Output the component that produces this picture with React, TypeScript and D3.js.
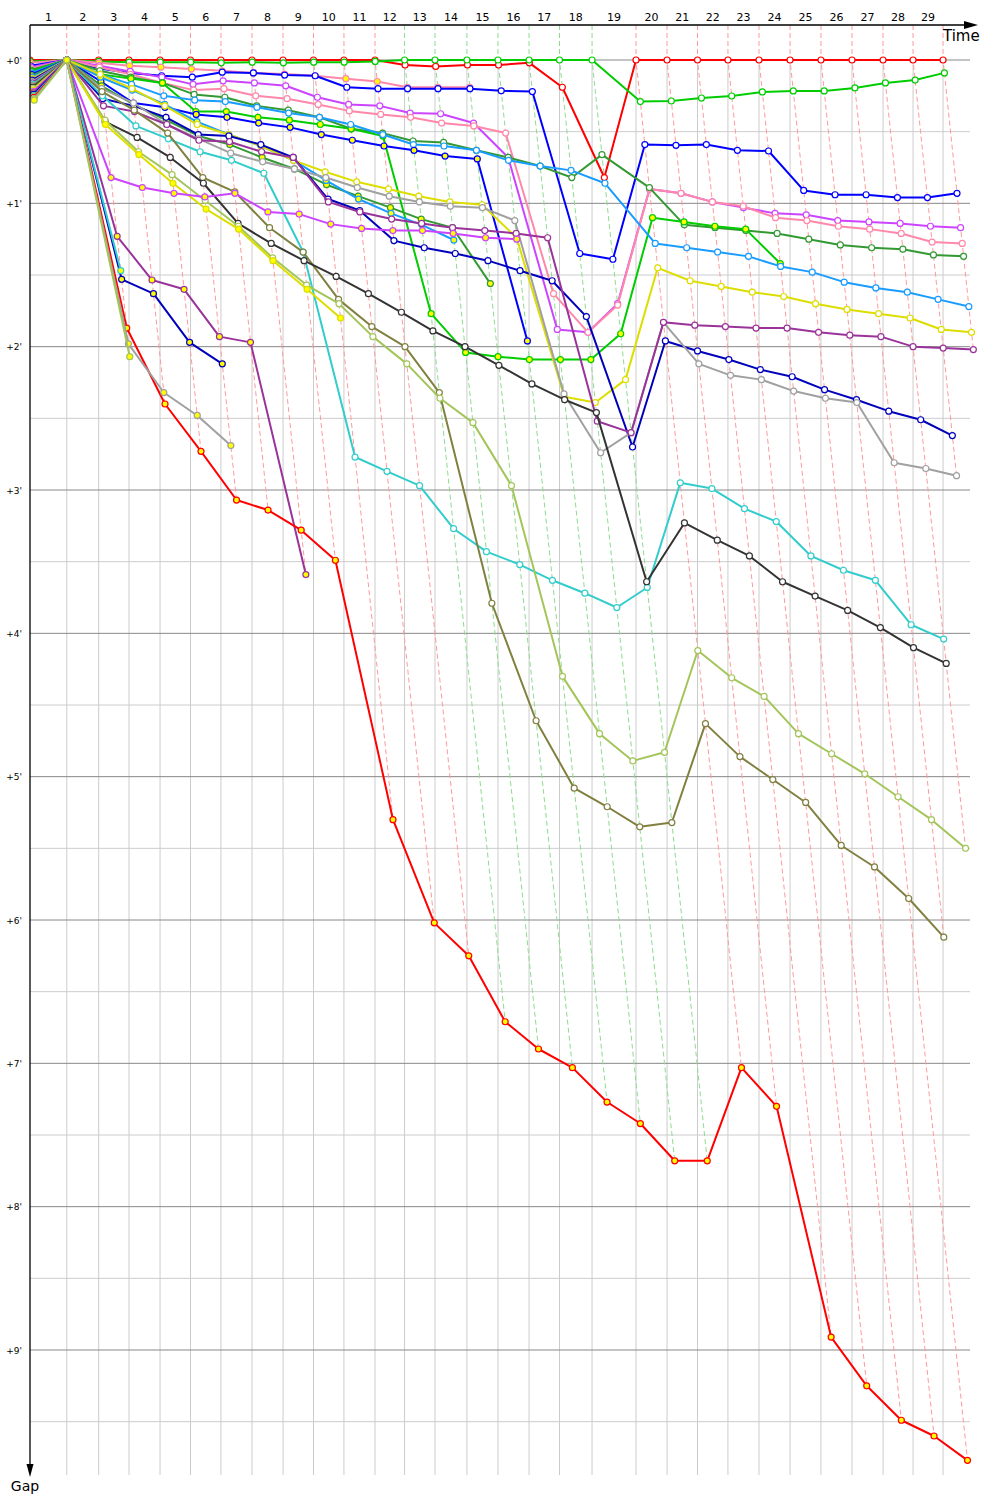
import { line as d3Line, max, scaleLinear } from 'd3'

const WIDTH = 1000
const HEIGHT = 1500

// leader's elapsed race time (minutes) at the end of laps 1..29
const leaderLapEnd = [
  2.45, 4.58, 6.6, 8.67, 10.7, 12.73, 14.8, 16.87, 18.9, 20.93, 23.0, 24.97, 27.0, 29.13, 31.2,
  33.27, 35.3, 37.47, 40.4, 42.47, 44.5, 46.53, 48.6, 50.67, 52.73, 54.8, 56.87, 58.87, 60.87,
]
const lapLabels = ['1', '2', '3', '4', '5', '6', '7', '8', '9', '10', '11', '12', '13', '14', '15', '16', '17', '18', '19', '20', '21', '22', '23', '24', '25', '26', '27', '28', '29']
const gapTicks = [0, 1, 2, 3, 4, 5, 6, 7, 8, 9]
const gapMinorTicks = [0.5, 1.5, 2.5, 3.5, 4.5, 5.5, 6.5, 7.5, 8.5, 9.5]

// gap to the leader in minutes, index 0 = start, index k = end of lap k
const gapsRedLeader = [0, 0, 0, 0, 0, 0, 0, 0, 0, 0, 0, 0, 0.035, 0.045, 0.035, 0.035, 0.02, 0.19, 0.82, 0, 0, 0, 0, 0, 0, 0, 0, 0, 0, 0]
const gapsGreenLeader = [0.01, 0, 0.01, 0.015, 0.015, 0.015, 0.02, 0.015, 0.02, 0.015, 0.015, 0.01, 0, 0, 0, 0, 0, 0, 0, 0.29, 0.286, 0.265, 0.251, 0.223, 0.216, 0.216, 0.195, 0.16, 0.14, 0.09]
const gapsPinkY = [0.02, 0, 0.02, 0.04, 0.05, 0.063, 0.075, 0.09, 0.098, 0.11, 0.13, 0.15, 0.19, 0.19, 0.19]
const gapsBlue = [0.04, 0, 0.06, 0.09, 0.11, 0.12, 0.085, 0.09, 0.105, 0.11, 0.19, 0.2, 0.2, 0.2, 0.2, 0.215, 0.22, 1.35, 1.39, 0.59, 0.595, 0.59, 0.63, 0.635, 0.91, 0.94, 0.94, 0.96, 0.96, 0.93]
const gapsViolet = [0.05, 0, 0.04, 0.08, 0.12, 0.17, 0.145, 0.16, 0.18, 0.26, 0.31, 0.32, 0.37, 0.375, 0.44, 0.68, 1.88, 1.9, 1.7, 0.9, 0.93, 0.99, 1.03, 1.07, 1.08, 1.12, 1.13, 1.14, 1.16, 1.17]
const gapsPink = [0.06, 0, 0.05, 0.1, 0.16, 0.21, 0.2, 0.25, 0.27, 0.31, 0.355, 0.38, 0.4, 0.44, 0.46, 0.51, 1.63, 1.9, 1.71, 0.9, 0.93, 0.99, 1.02, 1.1, 1.12, 1.16, 1.18, 1.21, 1.27, 1.28]
const gapsDarkGreen = [0.07, 0, 0.075, 0.12, 0.16, 0.24, 0.26, 0.32, 0.35, 0.4, 0.48, 0.51, 0.565, 0.575, 0.63, 0.68, 0.74, 0.82, 0.66, 0.89, 1.15, 1.17, 1.19, 1.21, 1.25, 1.29, 1.31, 1.32, 1.36, 1.37]
const gapsGreenY = [0.08, 0, 0.1, 0.13, 0.16, 0.36, 0.36, 0.4, 0.42, 0.45, 0.48, 0.53, 1.77, 2.04, 2.07, 2.09, 2.09, 2.09, 1.91, 1.1, 1.13, 1.16, 1.18, 1.42]
const gapsSky = [0.09, 0, 0.1, 0.17, 0.25, 0.28, 0.29, 0.33, 0.37, 0.4, 0.45, 0.52, 0.59, 0.6, 0.63, 0.7, 0.74, 0.77, 0.86, 1.28, 1.31, 1.34, 1.37, 1.44, 1.48, 1.55, 1.59, 1.62, 1.67, 1.72]
const gapsBlueY = [0.1, 0, 0.15, 0.3, 0.33, 0.38, 0.4, 0.44, 0.47, 0.52, 0.56, 0.6, 0.63, 0.67, 0.69, 1.96]
const gapsDarkGreenY = [0.11, 0, 0.18, 0.31, 0.42, 0.53, 0.59, 0.68, 0.76, 0.87, 0.95, 1.03, 1.11, 1.17, 1.56]
const gapsSkyY = [0.12, 0, 0.12, 0.21, 0.31, 0.43, 0.52, 0.6, 0.7, 0.84, 0.97, 1.07, 1.15, 1.256]
const gapsYellow = [0.13, 0, 0.1, 0.2, 0.32, 0.45, 0.52, 0.6, 0.7, 0.78, 0.85, 0.9, 0.95, 0.99, 1.01, 1.24, 2.35, 2.39, 2.23, 1.45, 1.54, 1.58, 1.62, 1.65, 1.7, 1.74, 1.77, 1.8, 1.88, 1.9]
const gapsNavy = [0.14, 0, 0.27, 0.32, 0.4, 0.52, 0.53, 0.59, 0.68, 0.97, 1.05, 1.26, 1.31, 1.35, 1.4, 1.47, 1.54, 1.79, 2.7, 1.96, 2.03, 2.09, 2.16, 2.21, 2.3, 2.37, 2.45, 2.51, 2.62]
const gapsGray = [0.15, 0, 0.2, 0.3, 0.45, 0.55, 0.65, 0.71, 0.76, 0.82, 0.89, 0.95, 0.99, 1.02, 1.03, 1.12, 2.33, 2.74, 2.6, 1.83, 2.12, 2.2, 2.23, 2.31, 2.36, 2.39, 2.81, 2.85, 2.9]
const gapsPurple = [0.16, 0, 0.32, 0.36, 0.45, 0.56, 0.57, 0.64, 0.68, 0.99, 1.06, 1.11, 1.14, 1.17, 1.19, 1.21, 1.24, 2.52, 2.6, 1.83, 1.85, 1.86, 1.87, 1.87, 1.9, 1.92, 1.93, 2.0, 2.01, 2.02]
const gapsCyan = [0.17, 0, 0.25, 0.46, 0.55, 0.64, 0.7, 0.79, 1.34, 2.77, 2.87, 2.97, 3.27, 3.43, 3.52, 3.63, 3.72, 3.82, 3.68, 2.95, 2.99, 3.13, 3.22, 3.46, 3.56, 3.63, 3.94, 4.04]
const gapsOlive = [0.18, 0, 0.22, 0.35, 0.51, 0.82, 0.92, 1.17, 1.34, 1.67, 1.86, 2.0, 2.32, 3.79, 4.61, 5.08, 5.21, 5.35, 5.32, 4.63, 4.86, 5.02, 5.18, 5.48, 5.63, 5.85, 6.12]
const gapsBlack = [0.19, 0, 0.43, 0.54, 0.68, 0.86, 1.14, 1.28, 1.4, 1.51, 1.63, 1.76, 1.89, 2.0, 2.13, 2.26, 2.37, 2.46, 3.64, 3.23, 3.35, 3.46, 3.64, 3.74, 3.84, 3.96, 4.1, 4.21]
const gapsLime = [0.2, 0, 0.42, 0.64, 0.8, 0.98, 1.16, 1.38, 1.57, 1.7, 1.93, 2.12, 2.36, 2.53, 2.97, 4.3, 4.7, 4.89, 4.83, 4.12, 4.31, 4.44, 4.7, 4.84, 4.98, 5.14, 5.3, 5.5]
const gapsYellowY = [0.21, 0, 0.45, 0.66, 0.86, 1.04, 1.18, 1.4, 1.6, 1.8]
const gapsVioletY = [0.22, 0, 0.82, 0.89, 0.93, 0.955, 0.93, 1.06, 1.075, 1.145, 1.175, 1.19, 1.19, 1.21, 1.24, 1.25]
const gapsPurpleY = [0.23, 0, 1.23, 1.535, 1.6, 1.93, 1.97, 3.59]
const gapsNavyY = [0.24, 0, 1.53, 1.63, 1.97, 2.12]
const gapsCyanY = [0.25, 0, 1.47]
const gapsRedY = [0.26, 0, 1.87, 2.4, 2.73, 3.07, 3.14, 3.28, 3.49, 5.3, 6.02, 6.25, 6.71, 6.9, 7.03, 7.27, 7.42, 7.68, 7.68, 7.03, 7.3, 8.91, 9.25, 9.49, 9.6, 9.77]
const gapsGrayY = [0.27, 0, 1.98, 2.32, 2.48, 2.69]
const gapsLimeY = [0.28, 0, 2.07]

const WHITE = '#ffffff'
const YELLOW = '#ffff00'

const series = [
  { key: 'red-leader', color: '#ff0000', fill: WHITE, lapLine: '#ff9a9a', gaps: gapsRedLeader },
  { key: 'green-leader', color: '#00cc00', fill: WHITE, lapLine: '#8fdc8f', gaps: gapsGreenLeader },
  { key: 'pink-y', color: '#ff88aa', fill: YELLOW, lapLine: '', gaps: gapsPinkY },
  { key: 'blue', color: '#0000ff', fill: WHITE, lapLine: '', gaps: gapsBlue },
  { key: 'violet', color: '#cc44ff', fill: WHITE, lapLine: '', gaps: gapsViolet },
  { key: 'pink', color: '#ff88aa', fill: WHITE, lapLine: '', gaps: gapsPink },
  { key: 'dark-green', color: '#339933', fill: WHITE, lapLine: '', gaps: gapsDarkGreen },
  { key: 'green-y', color: '#00cc00', fill: YELLOW, lapLine: '', gaps: gapsGreenY },
  { key: 'sky', color: '#1a9cff', fill: WHITE, lapLine: '', gaps: gapsSky },
  { key: 'blue-y', color: '#0000ff', fill: YELLOW, lapLine: '', gaps: gapsBlueY },
  { key: 'dark-green-y', color: '#339933', fill: YELLOW, lapLine: '', gaps: gapsDarkGreenY },
  { key: 'sky-y', color: '#1a9cff', fill: YELLOW, lapLine: '', gaps: gapsSkyY },
  { key: 'yellow', color: '#dddd00', fill: WHITE, lapLine: '', gaps: gapsYellow },
  { key: 'navy', color: '#0000bb', fill: WHITE, lapLine: '', gaps: gapsNavy },
  { key: 'gray', color: '#a0a0a0', fill: WHITE, lapLine: '', gaps: gapsGray },
  { key: 'purple', color: '#993399', fill: WHITE, lapLine: '', gaps: gapsPurple },
  { key: 'cyan', color: '#33cccc', fill: WHITE, lapLine: '', gaps: gapsCyan },
  { key: 'olive', color: '#808040', fill: WHITE, lapLine: '', gaps: gapsOlive },
  { key: 'black', color: '#333333', fill: WHITE, lapLine: '', gaps: gapsBlack },
  { key: 'lime', color: '#a3c55a', fill: WHITE, lapLine: '', gaps: gapsLime },
  { key: 'yellow-y', color: '#dddd00', fill: YELLOW, lapLine: '', gaps: gapsYellowY },
  { key: 'violet-y', color: '#cc44ff', fill: YELLOW, lapLine: '', gaps: gapsVioletY },
  { key: 'purple-y', color: '#993399', fill: YELLOW, lapLine: '', gaps: gapsPurpleY },
  { key: 'navy-y', color: '#0000bb', fill: YELLOW, lapLine: '', gaps: gapsNavyY },
  { key: 'cyan-y', color: '#33cccc', fill: YELLOW, lapLine: '', gaps: gapsCyanY },
  { key: 'red-y', color: '#ff0000', fill: YELLOW, lapLine: '', gaps: gapsRedY },
  { key: 'gray-y', color: '#a0a0a0', fill: YELLOW, lapLine: '', gaps: gapsGrayY },
  { key: 'lime-y', color: '#a3c55a', fill: YELLOW, lapLine: '', gaps: gapsLimeY },
]

const AXIS_TOP = 25
const AXIS_LEFT = 30
const GRID_RIGHT = 970
const GRID_BOTTOM = 1475
const FONT = '"DejaVu Sans", Verdana, sans-serif'

const x = scaleLinear().domain([0, 60]).range([AXIS_LEFT, AXIS_LEFT + 900])
const y = scaleLinear().domain([0, 9]).range([60, 1350])

const lapStart = (lap: number) => (lap === 0 ? 0 : leaderLapEnd[lap - 1])

export default function App() {
  const line = d3Line<[number, number]>()
    .x((d) => d[0])
    .y((d) => d[1])

  // one dashed lap line per lap: from the leader at gap 0 down to the slowest car of that lap
  const lapLines = leaderLapEnd.map((t, i) => {
    const lap = i + 1
    const entries = series.filter((s) => s.gaps.length > lap)
    const worst = max(entries, (s) => s.gaps[lap]) ?? 0
    let leader = entries[0]
    for (const s of entries) if (s.gaps[lap] < leader.gaps[lap]) leader = s
    const color = leader.key === 'green-leader' ? '#8fdc8f' : '#ff9a9a'
    const pts: [number, number][] = [
      [x(t), AXIS_TOP],
      [x(t), y(0)],
      [x(t + worst), y(worst)],
    ]
    return { lap, color, d: line(pts) ?? '' }
  })

  return (
    <svg
      width={WIDTH}
      height={HEIGHT}
      viewBox={`0 0 ${WIDTH} ${HEIGHT}`}
      style={{ position: 'absolute', left: 0, top: 0, background: '#fff' }}
    >
      <defs>
        <clipPath id="plot">
          <rect x={AXIS_LEFT + 0.5} y={AXIS_TOP} width={WIDTH - AXIS_LEFT} height={HEIGHT - AXIS_TOP} />
        </clipPath>
      </defs>

      {gapMinorTicks.map((g) => (
        <line key={`m${g}`} x1={AXIS_LEFT} x2={GRID_RIGHT} y1={y(g)} y2={y(g)} stroke="#cccccc" />
      ))}
      {leaderLapEnd.map((t, i) => (
        <line key={`v${i}`} x1={x(t)} x2={x(t)} y1={y(0)} y2={GRID_BOTTOM} stroke="#cccccc" />
      ))}
      {gapTicks.map((g) => (
        <line key={`M${g}`} x1={AXIS_LEFT} x2={GRID_RIGHT} y1={y(g)} y2={y(g)} stroke="#888888" />
      ))}

      {lapLines.map((l) => (
        <path key={`lap${l.lap}`} d={l.d} fill="none" stroke={l.color} strokeWidth={1} strokeDasharray="5,3" />
      ))}

      <g clipPath="url(#plot)">
        {series.map((s) => {
          const pts: [number, number][] = s.gaps.map((g, lap) => [x(lapStart(lap) + g), y(g)])
          return (
            <g key={s.key}>
              <path d={line(pts) ?? undefined} fill="none" stroke={s.color} strokeWidth={2} strokeLinejoin="round" />
              {pts.map((p, i) => (
                <circle key={i} cx={p[0]} cy={p[1]} r={3} fill={s.fill} stroke={s.color} strokeWidth={1.2} />
              ))}
            </g>
          )
        })}
      </g>

      {/* axes */}
      <line x1={AXIS_LEFT} x2={966} y1={AXIS_TOP} y2={AXIS_TOP} stroke="#000" strokeWidth={1.3} />
      <path d={`M964,${AXIS_TOP - 4} L978,${AXIS_TOP} L964,${AXIS_TOP + 4} Z`} fill="#000" />
      <line x1={AXIS_LEFT} x2={AXIS_LEFT} y1={AXIS_TOP} y2={1466} stroke="#000" strokeWidth={1.3} />
      <path d={`M${AXIS_LEFT - 3.5},1464 L${AXIS_LEFT},1477 L${AXIS_LEFT + 3.5},1464 Z`} fill="#000" />

      {lapLabels.map((label, i) => (
        <text
          key={label}
          x={(x(lapStart(i)) + x(lapStart(i + 1))) / 2}
          y={21}
          textAnchor="middle"
          fontFamily={FONT}
          fontSize={11}
          fill="#000"
        >
          {label}
        </text>
      ))}
      {gapTicks.map((g) => (
        <text key={`t${g}`} x={22} y={y(g) + 3.5} textAnchor="end" fontFamily={FONT} fontSize={9} fill="#000">
          {`+${g}'`}
        </text>
      ))}
      <text x={943} y={41} fontFamily={FONT} fontSize={15} fill="#000">
        Time
      </text>
      <text x={25} y={1491} textAnchor="middle" fontFamily={FONT} fontSize={14} fill="#000">
        Gap
      </text>
    </svg>
  )
}
